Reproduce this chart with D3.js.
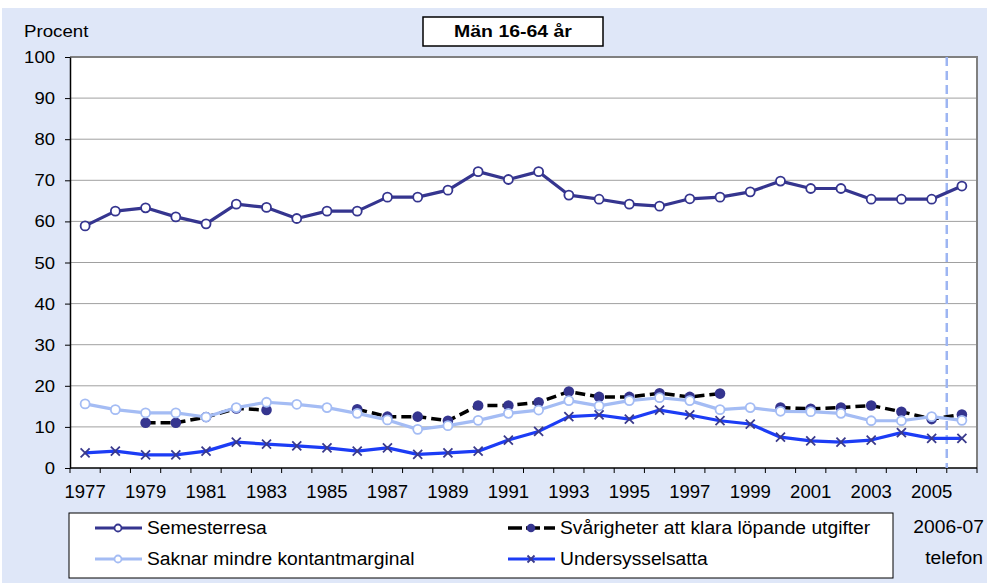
<!DOCTYPE html>
<html>
<head>
<meta charset="utf-8">
<script src="https://cdn.jsdelivr.net/npm/d3@7"></script>
<style>
  html, body { margin: 0; padding: 0; background: #ffffff; }
  svg { display: block; font-family: "Liberation Sans", Arial, sans-serif; }
</style>
</head>
<body>
<svg id="chart" width="987" height="583"></svg>
<script>
// Survey years (the last one is a telephone survey, 2006-07)
const years = d3.range(1977, 2007);
const xTickLabels = d3.range(1977, 2006, 2).map(String);
const yTicks = [0, 10, 20, 30, 40, 50, 60, 70, 80, 90, 100];

const semesterresa = [58.9, 62.5, 63.3, 61.1, 59.4, 64.2, 63.4, 60.7, 62.5, 62.5,
  65.9, 65.9, 67.6, 72.1, 70.2, 72.1, 66.4, 65.4, 64.2, 63.7,
  65.5, 65.9, 67.2, 69.8, 68.0, 68.0, 65.4, 65.4, 65.4, 68.6];
const svarigheter = [null, null, 11.0, 11.0, 12.4, 14.5, 14.1, null, null, 14.3,
  12.5, 12.5, 11.5, 15.2, 15.2, 16.0, 18.6, 17.3, 17.3, 18.2,
  17.3, 18.1, null, 14.7, 14.4, 14.7, 15.2, 13.7, 11.9, 13.0];
const saknar = [15.6, 14.2, 13.4, 13.4, 12.4, 14.7, 16.0, 15.5, 14.7, 13.3,
  11.7, 9.4, 10.3, 11.6, 13.3, 14.1, 16.4, 15.1, 16.4, 17.1,
  16.4, 14.2, 14.7, 13.8, 13.7, 13.3, 11.5, 11.5, 12.5, 11.6];
const undersysselsatta = [3.7, 4.1, 3.2, 3.2, 4.1, 6.3, 5.8, 5.4, 4.9, 4.1,
  4.9, 3.3, 3.7, 4.1, 6.8, 8.9, 12.5, 12.9, 11.9, 14.1,
  12.9, 11.5, 10.7, 7.5, 6.6, 6.3, 6.8, 8.6, 7.2, 7.2];

const seriesNames = ["Semesterresa", "Svårigheter att klara löpande utgifter",
  "Saknar mindre kontantmarginal", "Undersysselsatta"];

const navy = "#35358f";
const styles = [
  { values: semesterresa, line: navy, width: 3.2, dash: null, marker: "open", mStroke: navy },
  { values: svarigheter, line: "#000000", width: 3.5, dash: "10,5", marker: "dot", mStroke: navy },
  { values: saknar, line: "#a4bcf4", width: 3.2, dash: null, marker: "open", mStroke: "#a4bcf4" },
  { values: undersysselsatta, line: "#1c3cf5", width: 3.2, dash: null, marker: "cross", mStroke: "#3a3a8c" }
];

const svg = d3.select("#chart");
const W = 987, H = 583;
const bg = "#dfe7f8";

// Text helper: glyphs are drawn slightly wide, as in Excel-style exports
function label(parent, x, y, str, opts = {}) {
  const size = opts.size || 18, sx = opts.sx || 1.07;
  return parent.append("text")
    .attr("transform", `translate(${x},${y}) scale(${sx},1)`)
    .attr("text-anchor", opts.anchor || "start")
    .attr("font-size", size)
    .attr("font-weight", opts.weight || "normal")
    .attr("fill", "#000")
    .text(str);
}

// Panel background
svg.append("rect").attr("x", 2).attr("y", 8).attr("width", W - 2).attr("height", H - 8).attr("fill", bg);

const m = { left: 70, right: 977, top: 57, bottom: 468 };

const x = d3.scaleBand().domain(years).range([m.left, m.right]).paddingInner(0).paddingOuter(0);
const xc = d => x(d) + x.bandwidth() / 2;
const y = d3.scaleLinear().domain([0, 100]).range([m.bottom, m.top]);

// Plot area
svg.append("rect").attr("x", m.left).attr("y", m.top)
  .attr("width", m.right - m.left).attr("height", m.bottom - m.top).attr("fill", "#ffffff");

// Horizontal grid
svg.append("g").selectAll("line").data(yTicks.filter(v => v > 0 && v < 100)).join("line")
  .attr("x1", m.left).attr("x2", m.right)
  .attr("y1", d => y(d)).attr("y2", d => y(d))
  .attr("stroke", "#a0a0a0").attr("stroke-width", 1);

// Top and right frame
svg.append("path")
  .attr("d", `M${m.left},${y(100)}H${m.right}V${m.bottom}`)
  .attr("fill", "none").attr("stroke", "#808080").attr("stroke-width", 2);

// Y axis (ticks from the axis generator, labels drawn with the text helper)
const yAxis = d3.axisLeft(y).tickValues(yTicks).tickSize(5).tickSizeOuter(0).tickFormat("");
const gy = svg.append("g").attr("transform", `translate(${m.left},0)`).call(yAxis);
gy.select(".domain").attr("stroke", "#000").attr("stroke-width", 1.5);
gy.selectAll(".tick line").attr("stroke", "#000");
gy.selectAll(".tick text").remove();
yTicks.forEach(v => label(svg, m.left - 15, y(v) + 6, String(v), { size: 17, sx: 1.09, anchor: "end" }));

// X axis: ticks sit on category boundaries
const boundaries = years.map(d => x(d)).concat([m.right]);
const gx = svg.append("g");
gx.append("line").attr("x1", m.left).attr("x2", m.right)
  .attr("y1", m.bottom).attr("y2", m.bottom).attr("stroke", "#000").attr("stroke-width", 1.5);
gx.selectAll("line.tk").data(boundaries).join("line").attr("class", "tk")
  .attr("x1", d => d).attr("x2", d => d)
  .attr("y1", m.bottom).attr("y2", m.bottom + 5).attr("stroke", "#000");
xTickLabels.forEach(t => label(gx, xc(+t), 498, t, { size: 18, sx: 1.03, anchor: "middle" }));

// Vertical dashed divider before the telephone survey
svg.append("line")
  .attr("x1", x(2006)).attr("x2", x(2006))
  .attr("y1", m.top).attr("y2", m.bottom)
  .attr("stroke", "#9db5f2").attr("stroke-width", 2.5).attr("stroke-dasharray", "9,5");

// Series lines
const line = d3.line().defined(d => d.v != null).x(d => xc(d.year)).y(d => y(d.v));

function drawMarker(g, s, px, py, r) {
  if (s.marker === "open") {
    g.append("circle").attr("cx", px).attr("cy", py).attr("r", r)
      .attr("fill", "#fff").attr("stroke", s.mStroke).attr("stroke-width", 1.8);
  } else if (s.marker === "dot") {
    g.append("circle").attr("cx", px).attr("cy", py).attr("r", r + 0.8)
      .attr("fill", s.mStroke);
  } else {
    const k = r;
    g.append("path").attr("d", `M${px - k},${py - k}L${px + k},${py + k}M${px - k},${py + k}L${px + k},${py - k}`)
      .attr("stroke", s.mStroke).attr("stroke-width", 1.8);
  }
}

// Draw order: black dashed under light blue, then others
const order = [1, 2, 3, 0];
order.forEach(i => {
  const s = styles[i];
  const data = years.map((yr, j) => ({ year: yr, v: s.values[j] }));
  const g = svg.append("g");
  g.append("path").datum(data).attr("d", line)
    .attr("fill", "none").attr("stroke", s.line).attr("stroke-width", s.width)
    .attr("stroke-dasharray", s.dash).attr("stroke-linejoin", "round");
  data.filter(d => d.v != null).forEach(d => drawMarker(g, s, xc(d.year), y(d.v), 4.5));
});

// Y axis caption
label(svg, 24, 37, "Procent", { size: 17, sx: 1.1 });

// Title box
svg.append("rect").attr("x", 423).attr("y", 17).attr("width", 180).attr("height", 29)
  .attr("fill", "#fff").attr("stroke", "#000").attr("stroke-width", 1.5);
label(svg, 513, 37, "Män 16-64 år", { size: 16.5, sx: 1.18, anchor: "middle", weight: "bold" });

// Legend
const lg = svg.append("g");
lg.append("rect").attr("x", 69).attr("y", 513).attr("width", 824).attr("height", 65)
  .attr("fill", "#fff").attr("stroke", "#000").attr("stroke-width", 1);
const legendPos = [
  { x: 95, y: 528 }, { x: 508, y: 528 }, { x: 95, y: 559 }, { x: 508, y: 559 }
];
legendPos.forEach((p, i) => {
  const s = styles[i];
  lg.append("line").attr("x1", p.x).attr("x2", p.x + 47).attr("y1", p.y).attr("y2", p.y)
    .attr("stroke", s.line).attr("stroke-width", s.width)
    .attr("stroke-dasharray", s.dash ? "14,4" : null);
  drawMarker(lg, s, p.x + 23, p.y, 3.5);
  label(lg, p.x + 52, p.y + 6, seriesNames[i], { size: 18, sx: 1.07 });
});

// Note for the last survey
label(svg, 984, 533, "2006-07", { size: 18, sx: 1.07, anchor: "end" });
label(svg, 983, 564, "telefon", { size: 18, sx: 1.07, anchor: "end" });
</script>
</body>
</html>
